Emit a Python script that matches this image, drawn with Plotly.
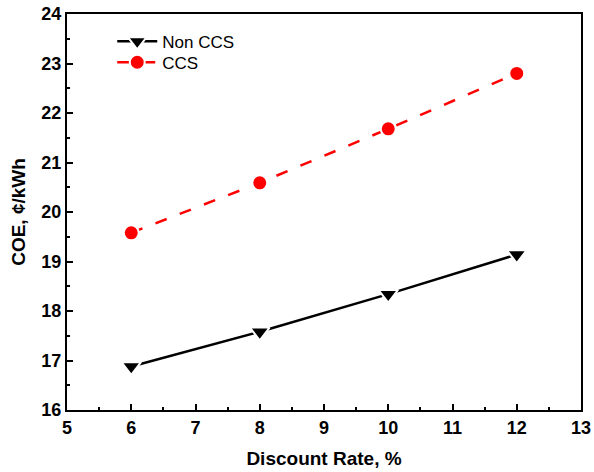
import plotly.graph_objects as go

# Discount rate (%) and cost of electricity (¢/kWh)
discount_rate = [6, 8, 10, 12]
coe_non_ccs = [16.88, 17.58, 18.34, 19.14]
coe_ccs = [19.58, 20.59, 21.68, 22.80]

fig = go.Figure()

fig.add_trace(go.Scatter(
    x=discount_rate, y=coe_non_ccs, name="Non CCS",
    mode="lines+markers", legend="legend",
    line=dict(color="black", width=2.5),
    marker=dict(symbol="triangle-down", size=17, color="black",
                line=dict(color="white", width=2)),
))
fig.add_trace(go.Scatter(
    x=discount_rate, y=coe_ccs, name="CCS",
    mode="lines+markers", legend="legend2",
    line=dict(color="#ff0000", width=2.5, dash="12px,14px"),
    marker=dict(symbol="circle", size=15, color="#ff0000",
                line=dict(color="white", width=2)),
))

tick_font = dict(family="Liberation Sans", size=18, color="black")
title_font = dict(family="Liberation Sans", size=19, color="black")
minor_ticks = dict(dtick=0.5, ticklen=3, tickwidth=2, tickcolor="black", ticks="inside")

axis_common = dict(
    showgrid=False, zeroline=False, automargin=False,
    showline=True, linecolor="black", linewidth=2, mirror=True,
    ticks="inside", ticklen=6, tickwidth=2, tickcolor="black",
    tickfont=tick_font, tickprefix="<b>", ticksuffix="</b>",
)

fig.update_xaxes(
    range=[5, 13], dtick=1, tick0=5, minor=minor_ticks,
    title=dict(text="<b>Discount Rate, %</b>", standoff=15, font=title_font),
    **axis_common,
)
fig.update_yaxes(
    range=[16, 24], dtick=1, tick0=16, minor=minor_ticks,
    title=dict(text="<b>COE, ¢/kWh</b>", standoff=11, font=title_font),
    **axis_common,
)

legend_common = dict(
    xanchor="left", yanchor="middle",
    bgcolor="rgba(0,0,0,0)", borderwidth=0,
    font=dict(family="Liberation Sans", size=17, color="black"),
    itemwidth=40,
)

fig.update_layout(
    width=594, height=472,
    margin=dict(l=67, r=13, t=14, b=62),
    paper_bgcolor="white", plot_bgcolor="white",
    showlegend=True,
    legend=dict(x=0.088, y=0.93, **legend_common),
    legend2=dict(x=0.088, y=0.877, **legend_common),
)

fig.write_html("out.html")
